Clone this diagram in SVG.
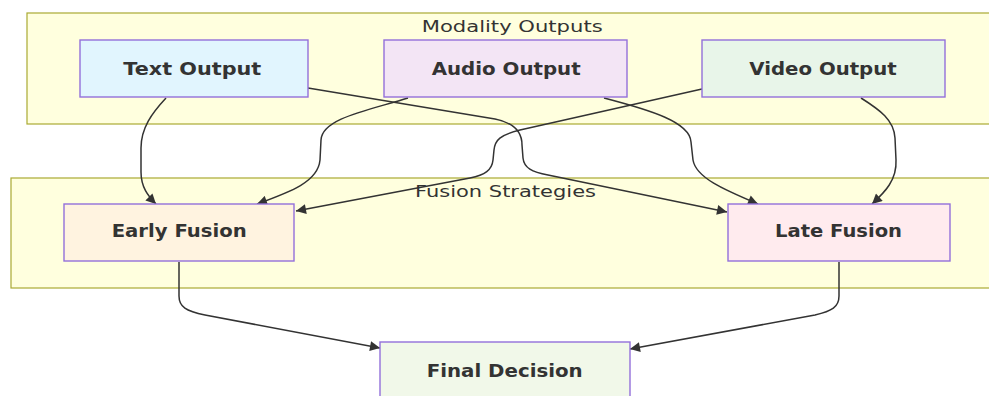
<svg xmlns="http://www.w3.org/2000/svg" width="989" height="396" viewBox="0 0 989 396">
<defs>
<marker id="arrow" viewBox="0 0 10 10" refX="10" refY="5" markerWidth="11" markerHeight="10" markerUnits="userSpaceOnUse" orient="auto">
<path d="M0,0 L10,5 L0,10 z" fill="#333333"/>
</marker>
</defs>
<style>
.cluster{fill:#ffffde;stroke:#aaaa33;stroke-width:1.2}
.ctitle{font-family:"DejaVu Sans","Liberation Sans",sans-serif;font-size:16.5px;fill:#333333}
.node rect{stroke:#9370db;stroke-width:1.4}
.node text{font-family:"DejaVu Sans","Liberation Sans",sans-serif;font-size:17px;font-weight:bold;fill:#333333}
.edge{fill:none;stroke:#333333;stroke-width:1.5;marker-end:url(#arrow)}
</style>
<rect width="989" height="396" fill="#ffffff"/>
<g id="cluster-modality">
<rect class="cluster" x="27" y="13" width="990" height="111"/>
<text class="ctitle" x="421.7" y="32" textLength="181" lengthAdjust="spacingAndGlyphs">Modality Outputs</text>
</g>
<g id="cluster-fusion">
<rect class="cluster" x="11" y="178" width="1010" height="110"/>
<text class="ctitle" x="415" y="196.5" textLength="181" lengthAdjust="spacingAndGlyphs">Fusion Strategies</text>
</g>
<g id="connectors">
<path class="edge" d="M166,98 C152,113 141,128 141,148 L141,172 C141,187 148,196 156,204"/>
<path class="edge" d="M408,98 C370,110 322,118 321,140 L320,160 C318,182 290,192 257,204"/>
<path class="edge" d="M702,89 L520,130 C500,135 495,140 494,150 L493,160 C492,170 485,175 470,178 L296,211"/>
<path class="edge" d="M308,88 L495,119 C515,123 522,133 522,145 L523,158 C524,168 532,172 548,175 L727,212"/>
<path class="edge" d="M604,98 C650,110 690,122 691,142 L693,160 C696,178 725,190 758,204"/>
<path class="edge" d="M861,98 C880,110 894,120 895,138 L896,160 C897,180 885,192 872,204"/>
<path class="edge" d="M179,262 L179,296 C179,307 186,311 205,315 L380,348"/>
<path class="edge" d="M839,262 L839,296 C839,307 832,311 815,315 L630,349"/>
</g>
<g id="text-output" class="node">
<rect x="80" y="40" width="228" height="57" fill="#e1f5fe"/>
<text x="123.3" y="74.5" textLength="138" lengthAdjust="spacingAndGlyphs">Text Output</text>
</g>
<g id="audio-output" class="node">
<rect x="384" y="40" width="243" height="57" fill="#f3e5f5"/>
<text x="431.7" y="74.5" textLength="149" lengthAdjust="spacingAndGlyphs">Audio Output</text>
</g>
<g id="video-output" class="node">
<rect x="702" y="40" width="243" height="57" fill="#e8f5e9"/>
<text x="749.3" y="74.5" textLength="147.4" lengthAdjust="spacingAndGlyphs">Video Output</text>
</g>
<g id="early-fusion" class="node">
<rect x="64" y="204" width="230" height="57" fill="#fff3e0"/>
<text x="111.7" y="237" textLength="135" lengthAdjust="spacingAndGlyphs">Early Fusion</text>
</g>
<g id="late-fusion" class="node">
<rect x="728" y="204" width="222" height="57" fill="#ffebee"/>
<text x="775" y="237" textLength="127" lengthAdjust="spacingAndGlyphs">Late Fusion</text>
</g>
<g id="final-decision" class="node">
<rect x="380" y="342" width="250" height="57" fill="#f1f8e9"/>
<text x="426.7" y="376.5" textLength="156" lengthAdjust="spacingAndGlyphs">Final Decision</text>
</g>
</svg>
